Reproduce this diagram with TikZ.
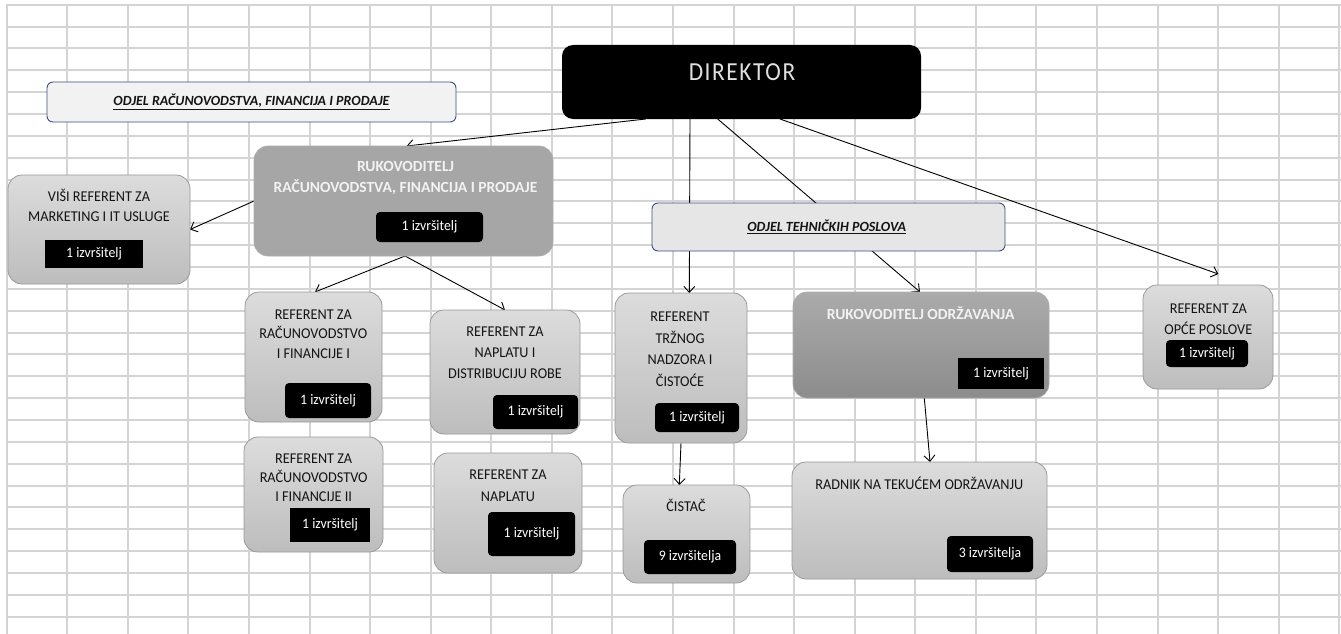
\documentclass[tikz,border=0pt]{standalone}
\usepackage{fontspec}
\setmainfont{Carlito}
\newfontfamily\bodyfont[FakeStretch=0.95]{Carlito}
\newfontfamily\dirfont[LetterSpace=6,FakeStretch=0.9]{Carlito}
\usetikzlibrary{arrows.meta}
\pgfdeclarelayer{gridlayer}
\pgfdeclarelayer{edgelayer}
\pgfsetlayers{gridlayer,edgelayer,main}
\definecolor{gridc}{HTML}{D4D4D4}
\definecolor{hdrborder}{HTML}{3C4F7C}
\definecolor{hdrfillA}{HTML}{F2F2F2}
\definecolor{hdrfillB}{HTML}{E6E6E6}
\definecolor{midgray}{HTML}{A6A6A6}
\definecolor{lighttop}{HTML}{DCDCDC}
\definecolor{lightbot}{HTML}{BDBDBD}
\definecolor{boxborder}{HTML}{9A9A9A}
\definecolor{darktop}{HTML}{ABABAB}
\definecolor{darkbot}{HTML}{8C8C8C}
\definecolor{dirtext}{HTML}{E0E0E0}
\definecolor{txtc}{HTML}{141414}
\tikzset{
  gridline/.style={draw=gridc, line width=1.8pt},
  box/.style={anchor=north west, inner sep=0pt, outer sep=0pt, rounded corners=14pt},
  lightbox/.style={box, draw=boxborder, line width=0.8pt, top color=lighttop, bottom color=lightbot},
  midbox/.style={box, draw=boxborder!80, line width=0.6pt, fill=midgray},
  darkbox/.style={box, draw=boxborder!80, line width=0.6pt, top color=darktop, bottom color=darkbot},
  hdrbox/.style={box, rounded corners=6pt, draw=hdrborder, line width=0.9pt},
  dirbox/.style={box, rounded corners=11pt, fill=black},
  badge/.style={anchor=north west, inner sep=0pt, outer sep=0pt, fill=black, text=white,
    font=\bodyfont\fontsize{14.5}{17}\selectfont},
  rbadge/.style={badge, rounded corners=4pt},
  txt/.style={inner sep=0pt, align=center, text height=9.7pt, text depth=0pt, text=txtc,
    font=\bodyfont\fontsize{15}{19.5}\selectfont},
  wtxt/.style={inner sep=0pt, align=center, text height=10pt, text depth=0pt, text=white!95!black,
    font=\fontsize{15.5}{21}\selectfont\bfseries},
  htxt/.style={inner sep=0pt, text=txtc, font=\fontsize{14}{17}\selectfont\bfseries\itshape},
  conn/.style={draw=black, line width=0.9pt, -{Straight Barb[length=6pt,width=11pt,line width=0.9pt]}}
}
\begin{document}
\begin{tikzpicture}[x=1pt, y=-1pt]
\useasboundingbox (0,0) rectangle (1341,634);
\begin{pgfonlayer}{gridlayer}
  \fill[white] (0,0) rectangle (1341,634);
  \foreach \i in {0,...,22} \draw[gridline] ({round(6.7+60.57*\i)},4) -- ({round(6.7+60.57*\i)},634);
  \foreach \j in {0,...,28} \draw[gridline] (6,{round(4.7+21.86*\j)}) -- (1341,{round(4.7+21.86*\j)});
\end{pgfonlayer}

% header boxes
\node[hdrbox, fill=hdrfillA, minimum width=409pt, minimum height=40pt] (hdrA) at (47,82) {};
\node[htxt] (hdrAt) at (251.5,101.7) {\underline{ODJEL RAČUNOVODSTVA, FINANCIJA I PRODAJE}};
\node[hdrbox, fill=hdrfillB, minimum width=353pt, minimum height=48pt] (hdrB) at (652,203) {};
\node[htxt] (hdrBt) at (826.7,226.7) {\underline{ODJEL TEHNIČKIH POSLOVA}};

% director
\node[dirbox, minimum width=359pt, minimum height=74pt] (dir) at (562,45) {};
\node[inner sep=0pt, text=dirtext, text height=16.7pt, text depth=0pt,
  font=\dirfont\fontsize{26}{30}\selectfont] (dirt) at (742,71.7) {DIREKTOR};

% rukovoditelj racunovodstva
\node[midbox, minimum width=299pt, minimum height=110pt] (rukA) at (254,146) {};
\node[wtxt] (rukAt) at (405.5,187) {RUKOVODITELJ\\RAČUNOVODSTVA, FINANCIJA I PRODAJE};
\node[rbadge, minimum width=107pt, minimum height=30pt] (rukAb) at (376,212) {1 izvršitelj};

% visi referent
\node[lightbox, minimum width=182pt, minimum height=109pt] (visi) at (8,175) {};
\node[txt, font=\bodyfont\fontsize{15}{20}\selectfont] (visit) at (99,216.7) {VIŠI REFERENT ZA\\MARKETING I IT USLUGE};
\node[badge, minimum width=98pt, minimum height=28pt] (visib) at (45,240) {1 izvršitelj};

% referent racunovodstvo I
\node[lightbox, minimum width=137pt, minimum height=130pt] (rf1) at (245,292) {};
\node[txt, font=\bodyfont\fontsize{15}{19.2}\selectfont] (rf1t) at (313.3,353.3) {REFERENT ZA\\RAČUNOVODSTVO\\I FINANCIJE I};
\node[rbadge, minimum width=86pt, minimum height=35pt] (rf1b) at (285,383) {1 izvršitelj};

% referent racunovodstvo II
\node[lightbox, minimum width=139pt, minimum height=115pt] (rf2) at (244,437) {};
\node[txt, font=\bodyfont\fontsize{15}{19.2}\selectfont] (rf2t) at (313.7,496.7) {REFERENT ZA\\RAČUNOVODSTVO\\I FINANCIJE II};
\node[badge, minimum width=80pt, minimum height=34pt] (rf2b) at (290,508) {1 izvršitelj};

% referent naplata i distribucija
\node[lightbox, minimum width=150pt, minimum height=124pt] (rn1) at (430,310) {};
\node[txt, font=\bodyfont\fontsize{15}{20.8}\selectfont] (rn1t) at (505,373.3) {REFERENT ZA\\NAPLATU I\\DISTRIBUCIJU ROBE};
\node[rbadge, minimum width=85pt, minimum height=34pt] (rn1b) at (493,395) {1 izvršitelj};

% referent naplata
\node[lightbox, minimum width=148pt, minimum height=120pt] (rn2) at (434,453) {};
\node[txt, font=\bodyfont\fontsize{15}{21.7}\selectfont] (rn2t) at (508,496.7) {REFERENT ZA\\NAPLATU};
\node[rbadge, minimum width=87pt, minimum height=44pt] (rn2b) at (488,512) {1 izvršitelj};

% referent trznog nadzora
\node[lightbox, minimum width=132pt, minimum height=150pt] (trz) at (615,293) {};
\node[txt, font=\bodyfont\fontsize{15}{21.7}\selectfont] (trzt) at (680,381.7) {REFERENT\\TRŽNOG\\NADZORA I\\ČISTOĆE};
\node[rbadge, minimum width=84pt, minimum height=29pt] (trzb) at (655,403) {1 izvršitelj};

% cistac
\node[lightbox, minimum width=127pt, minimum height=98pt] (cis) at (623,485) {};
\node[txt] (cist) at (686,506.7) {ČISTAČ};
\node[rbadge, minimum width=92pt, minimum height=34pt] (cisb) at (644,540) {9 izvršitelja};

% rukovoditelj odrzavanja
\node[darkbox, minimum width=256pt, minimum height=106pt] (rodr) at (793,292) {};
\node[wtxt] (rodrt) at (920.7,314) {RUKOVODITELJ ODRŽAVANJA};
\node[badge, minimum width=86pt, minimum height=31pt] (rodrb) at (958,358) {1 izvršitelj};

% radnik na tekucem odrzavanju
\node[lightbox, minimum width=255pt, minimum height=117pt] (rad) at (792,462) {};
\node[txt] (radt) at (919.3,484.3) {RADNIK NA TEKUĆEM ODRŽAVANJU};
\node[rbadge, minimum width=86pt, minimum height=36pt] (radb) at (947,536) {3 izvršitelja};

% referent za opce poslove
\node[lightbox, minimum width=130pt, minimum height=104pt] (opce) at (1143,285) {};
\node[txt, font=\bodyfont\fontsize{15}{21}\selectfont] (opcet) at (1208.3,329.3) {REFERENT ZA\\OPĆE POSLOVE};
\node[rbadge, minimum width=82pt, minimum height=27pt] (opceb) at (1166,340) {1 izvršitelj};

% connectors
\begin{pgfonlayer}{edgelayer}
  \draw[conn] ([xshift=-95.8pt]dir.south) -- ([xshift=3.2pt]rukA.north);
  \draw[conn] ([xshift=-51.5pt]dir.south) -- ([xshift=8.3pt]trz.north);
  \draw[conn] ([xshift=-23.8pt]dir.south) -- ([xshift=-1pt]rodr.north);
  \draw[conn] ([xshift=38.5pt]dir.south) -- ([xshift=10.3pt,yshift=11pt]opce.north);
  \draw[conn] (rukA.west) -- (visi.east);
  \draw[conn] ([xshift=1.5pt]rukA.south) -- ([xshift=1.5pt]rf1.north);
  \draw[conn] ([xshift=1.5pt]rukA.south) -- (rn1.north);
  \draw[conn] (trz.south) -- ([xshift=-7.2pt]cis.north);
  \draw[conn] ([xshift=3.3pt]rodr.south) -- ([xshift=10.5pt]rad.north);
\end{pgfonlayer}
\end{tikzpicture}
\end{document}
